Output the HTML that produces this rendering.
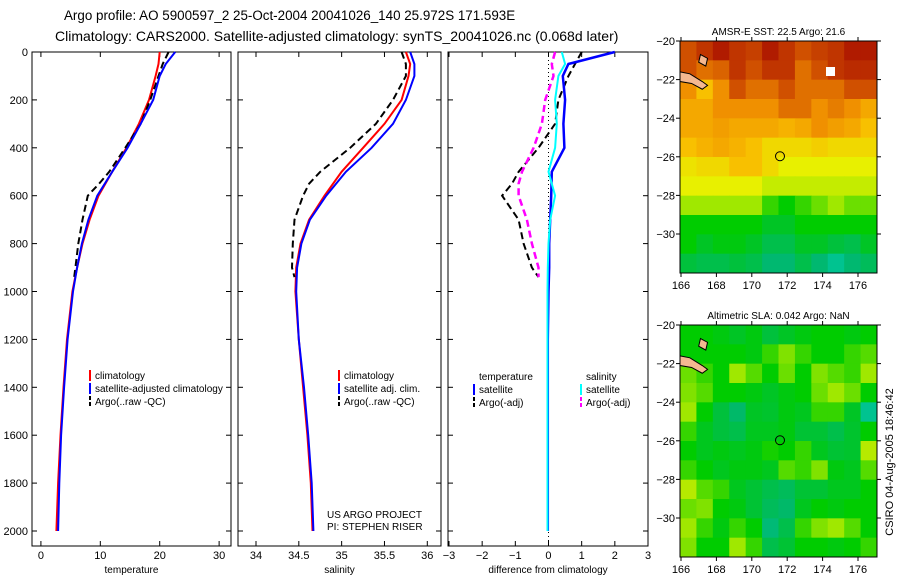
<!DOCTYPE html>
<html><head><meta charset="utf-8"><style>
body{margin:0;background:#fff}
svg{display:block;font-family:"Liberation Sans",sans-serif}
</style></head><body>
<svg id="c" width="900" height="580"></svg>
<script>
// ---- data ----
const depths=[0,50,100,200,300,400,500,600,700,800,900,1000,1200,1400,1600,1800,2000];
const tempClim=[20,19.8,19.3,18.2,16.5,14.4,12,9.7,8.2,7,6.1,5.3,4.4,3.8,3.3,2.9,2.6];
const tempSat=[22.6,21,20,18.9,16.8,14.6,12,9.5,8,6.9,6.1,5.4,4.5,3.9,3.4,3.1,2.9];
const argoDepths=[0,50,100,200,300,400,500,550,600,700,800,900,940];
const tempArgo=[21.5,20.5,19.8,18.4,16.8,14.2,11.5,9.8,7.9,7,6.3,5.8,5.6];
const salClim=[35.75,35.8,35.78,35.7,35.5,35.25,35.0,34.8,34.62,34.52,34.47,34.46,34.5,34.55,34.6,34.64,34.66];
const salSat=[35.8,35.85,35.85,35.75,35.6,35.35,35.05,34.82,34.63,34.53,34.48,34.47,34.5,34.56,34.61,34.65,34.67];
const salArgo=[35.7,35.75,35.75,35.6,35.4,35.1,34.75,34.62,34.55,34.45,34.43,34.42,34.45];
const dTempSat=[2.0,0.6,0.43,0.5,0.45,0.48,0.1,0.08,0.05,0.02,0.02,0.0,-0.02,-0.02,-0.02,-0.02,-0.02];
const dSalSat=[0.4,0.5,0.3,0.2,0.25,0.2,0.0,0.2,0.05,0.0,-0.02,-0.03,-0.03,-0.03,-0.03,-0.03,-0.03];
const dTempArgo=[1.0,0.8,0.6,0.3,0.2,-0.3,-0.9,-1.1,-1.4,-0.9,-0.75,-0.5,-0.3];
const dSalArgo=[0.2,0.1,0.15,-0.1,-0.2,-0.45,-0.8,-0.9,-0.9,-0.65,-0.5,-0.3,-0.3];
const sst=[
[.85,.9,.95,.9,.88,.95,.9,.85,.88,.9,.95,.95],
[.85,.8,.82,.9,.85,.9,.9,.8,.85,.9,.92,.92],
[.75,.65,.75,.85,.8,.8,.85,.8,.8,.8,.85,.85],
[.7,.7,.75,.75,.75,.75,.8,.8,.75,.78,.75,.7],
[.7,.7,.72,.7,.7,.7,.68,.7,.75,.72,.7,.65],
[.65,.68,.7,.68,.65,.6,.6,.6,.62,.6,.6,.6],
[.58,.6,.6,.65,.65,.6,.55,.55,.55,.55,.55,.55],
[.55,.55,.55,.55,.55,.5,.5,.5,.5,.5,.5,.5],
[.45,.45,.45,.45,.45,.35,.3,.35,.4,.45,.4,.4],
[.3,.3,.3,.3,.3,.25,.25,.3,.3,.3,.3,.3],
[.3,.25,.28,.28,.25,.2,.2,.25,.25,.22,.2,.25],
[.22,.2,.2,.22,.2,.15,.15,.2,.15,.1,.15,.18]];
const sla=[
[.3,.3,.28,.25,.28,.22,.25,.28,.3,.3,.28,.3],
[.3,.3,.3,.3,.28,.35,.42,.35,.3,.3,.35,.38],
[.4,.35,.3,.45,.38,.3,.4,.3,.42,.38,.35,.45],
[.42,.38,.3,.3,.28,.25,.28,.3,.4,.45,.4,.3],
[.45,.3,.22,.16,.25,.24,.28,.26,.35,.35,.25,.1],
[.35,.26,.22,.2,.26,.26,.28,.23,.23,.2,.24,.3],
[.3,.26,.28,.26,.28,.32,.3,.35,.26,.23,.24,.48],
[.35,.3,.26,.28,.28,.26,.38,.35,.42,.28,.26,.38],
[.48,.38,.35,.26,.23,.2,.18,.23,.23,.26,.26,.3],
[.4,.42,.3,.28,.23,.18,.16,.26,.3,.28,.3,.3],
[.45,.35,.28,.35,.3,.14,.2,.35,.42,.45,.38,.3],
[.42,.3,.3,.45,.35,.2,.23,.3,.3,.28,.3,.35]];
const depthTicks=[0,200,400,600,800,1000,1200,1400,1600,1800,2000];
const tempTicks=[0,10,20,30];
const salTicks=[34,34.5,35,35.5,36];
const diffTicks=[-3,-2,-1,0,1,2,3];
const lonTicks=[166,168,170,172,174,176];
const latTicks=[-20,-22,-24,-26,-28,-30];

const NS="http://www.w3.org/2000/svg";const svg=document.getElementById('c');
function el(t,a,p){const e=document.createElementNS(NS,t);for(const k in a)e.setAttribute(k,a[k]);(p||svg).appendChild(e);return e;}
function txt(x,y,s,size,anchor,p){const e=el('text',{x:x,y:y,'font-size':size||11,'text-anchor':anchor||'start',fill:'#000'},p);e.textContent=s;return e;}
const Y0=52,Y1=546;const yD=d=>52+d*(531-52)/2000;

function panel(name,x0,x1,vmin,vmax,ticks,xlabel,showY){
  const g=el('g',{});
  
  
  const sx=v=>x0+(v-vmin)/(vmax-vmin)*(x1-x0);
  el('rect',{x:x0,y:Y0,width:x1-x0,height:Y1-Y0,fill:'none',stroke:'#000','stroke-width':1},g);
  ticks.forEach(t=>{const x=sx(t);el('line',{x1:x,x2:x,y1:Y1,y2:Y1-5,stroke:'#000'},g);el('line',{x1:x,x2:x,y1:Y0,y2:Y0+5,stroke:'#000'},g);
    const l=txt(x,559,String(t).replace('-','−'),11,'middle',g);});
  depthTicks.forEach(d=>{const y=yD(d);el('line',{x1:x0,x2:x0+5,y1:y,y2:y,stroke:'#000'},g);el('line',{x1:x1,x2:x1-5,y1:y,y2:y,stroke:'#000'},g);
    if(showY){const l=txt(x0-4,y+4,String(d),11,'end',g);}});
  const xl=txt((x0+x1)/2,573,xlabel,10,'middle',g);
  return {g,sx};
}
function line(p,ds,vs,color,w,dash,name){
  const pts=ds.map((d,i)=>p.sx(vs[i]).toFixed(1)+','+yD(d).toFixed(1)).join(' ');
  const e=el('polyline',{points:pts,fill:'none',stroke:color,'stroke-width':w,'stroke-dasharray':dash||'none'},p.g);
  
  
}
function legend(p,x,y,items){
  items.forEach((it,i)=>{const yy=y+i*13;
    if(it.c){el('line',{x1:x,x2:x,y1:yy-9,y2:yy+2,stroke:it.c,'stroke-width':2,'stroke-dasharray':it.d||'none'},p.g);}
    const t=txt(x+5,yy,it.t,10,'start',p.g);});
}
// titles
const t1=txt(64,20,'Argo profile: AO 5900597_2 25-Oct-2004 20041026_140 25.972S 171.593E',13.4);

const t2=txt(55,41,'Climatology: CARS2000. Satellite-adjusted climatology: synTS_20041026.nc (0.068d later)',14);


const pT=panel('temperature-panel',32,231,-1.5,32,tempTicks,'temperature',true);
line(pT,depths,tempClim,'#f00',2,null,'temp-climatology-line');
line(pT,argoDepths,tempArgo,'#000',2,'7,4','temp-argo-line');
line(pT,depths,tempSat,'#00f',2,null,'temp-satellite-line');
legend(pT,90,379,[{t:'climatology',c:'#f00'},{t:'satellite-adjusted climatology',c:'#00f'},{t:'Argo(..raw -QC)',c:'#000',d:'4,2'}]);

const pS=panel('salinity-panel',238,441,33.79,36.16,salTicks,'salinity',false);
line(pS,depths,salClim,'#f00',2,null,'sal-climatology-line');
line(pS,argoDepths,salArgo,'#000',2,'7,4','sal-argo-line');
line(pS,depths,salSat,'#00f',2,null,'sal-satellite-line');
legend(pS,339,379,[{t:'climatology',c:'#f00'},{t:'satellite adj. clim.',c:'#00f'},{t:'Argo(..raw -QC)',c:'#000',d:'4,2'}]);
txt(327,518,'US ARGO PROJECT',10,'start',pS.g);
txt(327,530,'PI: STEPHEN RISER',10,'start',pS.g);

const pD=panel('difference-panel',448,648,-3.03,3,diffTicks,'difference from climatology',false);
el('line',{x1:pD.sx(0),x2:pD.sx(0),y1:Y0,y2:Y1,stroke:'#000','stroke-dasharray':'1,3'},pD.g);
line(pD,argoDepths,dTempArgo,'#000',2,'7,4','diff-temp-argo-line');
line(pD,argoDepths,dSalArgo,'#f0f',2.5,'7,4','diff-sal-argo-line');
line(pD,depths,dTempSat,'#00f',2.5,null,'diff-temp-satellite-line');
line(pD,depths,dSalSat,'#0ff',2,null,'diff-sal-satellite-line');
legend(pD,474,380,[{t:'temperature'},{t:'satellite',c:'#00f'},{t:'Argo(-adj)',c:'#000',d:'4,2'}]);
legend(pD,581,380,[{t:'salinity'},{t:'satellite',c:'#0ff'},{t:'Argo(-adj)',c:'#f0f',d:'4,2'}]);

// maps
const stops=[[0,[0,216,208]],[.15,[0,184,112]],[.3,[0,204,0]],[.45,[160,232,0]],[.55,[232,240,0]],[.65,[248,192,0]],[.75,[240,144,0]],[.85,[208,80,0]],[1,[160,0,0]]];
function cmap(v){for(let i=1;i<stops.length;i++){if(v<=stops[i][0]){const a=stops[i-1],b=stops[i],f=(v-a[0])/(b[0]-a[0]);
  return 'rgb('+a[1].map((c,k)=>Math.round(c+(b[1][k]-c)*f)).join(',')+')';}}return 'rgb(160,0,0)';}
function map(name,grid,top,title){
  const x0=680,x1=877,bot=top+232;const g=el('g',{});
  
  
  const lx=l=>681+(l-166)*17.7, ly=l=>top+(-20-l)*19.3;
  const cw=(x1-x0)/grid[0].length,ch=(bot-top)/grid.length;
  grid.forEach((row,r)=>row.forEach((v,c)=>{const e=el('rect',{x:x0+c*cw,y:top+r*ch,width:cw+0.5,height:ch+0.5,fill:cmap(v)},g);
    }));
  el('path',{d:`M${x0} ${ly(-21.6)} L${lx(166.5)} ${ly(-21.7)} L${lx(167.2)} ${ly(-22.1)} L${lx(167.5)} ${ly(-22.3)} L${lx(167.2)} ${ly(-22.5)} L${lx(166.6)} ${ly(-22.2)} L${x0} ${ly(-22.1)} Z`,fill:'#f4b890',stroke:'#000','stroke-width':1},g);
  el('path',{d:`M${lx(167.1)} ${ly(-20.7)} L${lx(167.5)} ${ly(-20.9)} L${lx(167.4)} ${ly(-21.3)} L${lx(167.0)} ${ly(-21.1)} Z`,fill:'#f4b890',stroke:'#000','stroke-width':1},g);
  el('circle',{cx:lx(171.593),cy:ly(-25.972),r:4.5,fill:'none',stroke:'#000','stroke-width':1},g);
  el('rect',{x:x0,y:top,width:x1-x0,height:bot-top,fill:'none',stroke:'#000'},g);
  lonTicks.forEach(l=>{const x=lx(l);el('line',{x1:x,x2:x,y1:bot,y2:bot+4,stroke:'#000'},g);el('line',{x1:x,x2:x,y1:top,y2:top-4,stroke:'#000'},g);
    const t=txt(x,bot+16,String(l),11,'middle',g);});
  latTicks.forEach(l=>{const y=ly(l);el('line',{x1:x0,x2:x0-4,y1:y,y2:y,stroke:'#000'},g);el('line',{x1:x1,x2:x1+4,y1:y,y2:y,stroke:'#000'},g);
    const t=txt(x0-5,y+4,String(l).replace('-','−'),11,'end',g);});
  const tt=txt((x0+x1)/2,top-6,title,10,'middle',g);
}
map('sst-map',sst,41,'AMSR-E SST: 22.5 Argo: 21.6');
el('rect',{x:826,y:67,width:9,height:9,fill:'#fff'});
map('sla-map',sla,325,'Altimetric SLA: 0.042 Argo: NaN');
const cs=txt(0,0,'CSIRO 04-Aug-2005 18:46:42',11,'middle');
cs.setAttribute('transform','translate(893,462) rotate(-90)');

</script>
</body></html>
